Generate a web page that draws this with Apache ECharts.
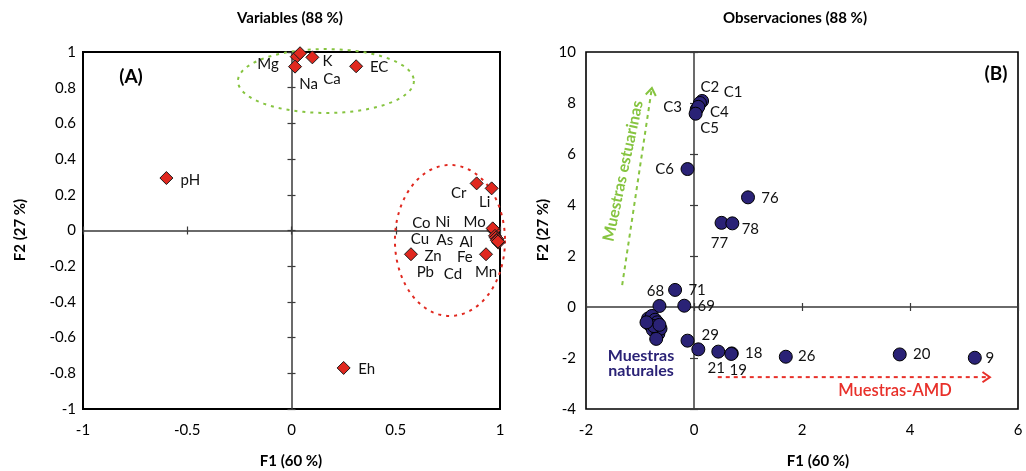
<!DOCTYPE html>
<html>
<head>
<meta charset="utf-8">
<script src="https://cdn.jsdelivr.net/npm/echarts@6/dist/echarts.min.js"></script>
<style>
  html, body { margin: 0; padding: 0; background: #fff; }
  #chart { width: 1026px; height: 471px; }
</style>
</head>
<body>
<div id="chart"></div>
<script>
// ---------- Panel A: variable loadings ----------
const varNames = ['pH', 'Eh', 'EC', 'K', 'Na', 'Ca', 'Mg', 'Cr', 'Li', 'Co', 'Ni', 'Mo', 'Cu', 'As', 'Al', 'Fe', 'Pb', 'Cd', 'Zn', 'Mn'];
const varF1 = [-0.60, 0.25, 0.31, 0.10, 0.025, 0.041, 0.017, 0.888, 0.96, 0.968, 0.970, 0.965, 0.976, 0.980, 0.987, 0.985, 0.992, 0.990, 0.573, 0.933];
const varF2 = [0.294, -0.77, 0.92, 0.97, 0.974, 0.993, 0.918, 0.264, 0.236, 0.008, 0.000, 0.012, -0.030, -0.040, -0.048, -0.055, -0.068, -0.062, -0.133, -0.133];

// ---------- Panel B: observation scores ----------
const obsNames = ['C1', 'C2', 'C3', 'C4', 'C5', 'C6', '76', '77', '78', '68', '71', '69',
  '29', '', '21', '18', '19', '26', '20', '9',
  '', '', '', '', '', '', '', '', '', '', '', '', '', '', ''];
const obsF1 = [0.15, 0.11, 0.05, 0.08, 0.03, -0.12, 1.00, 0.51, 0.71, -0.64, -0.35, -0.18,
  0.08, -0.12, 0.45, 0.70, 0.69, 1.70, 3.81, 5.20,
  -0.85, -0.80, -0.78, -0.75, -0.72, -0.70, -0.68, -0.82, -0.76, -0.66, -0.62, -0.70, -0.74, -0.88, -0.64];
const obsF2 = [8.08, 8.00, 7.75, 7.85, 7.58, 5.41, 4.30, 3.30, 3.28, 0.04, 0.67, 0.05,
  -1.66, -1.32, -1.75, -1.82, -1.84, -1.95, -1.86, -1.99,
  -0.45, -0.55, -0.35, -0.65, -0.50, -0.80, -0.60, -0.70, -0.90, -1.05, -0.85, -1.25, -0.75, -0.60, -0.70];

// Axis tick values
const ticksA_x = [-1, -0.5, 0, 0.5, 1];
const ticksA_y = [-1, -0.8, -0.6, -0.4, -0.2, 0, 0.2, 0.4, 0.6, 0.8, 1];
const ticksB_x = [-2, 0, 2, 4, 6];
const ticksB_y = [-4, -2, 0, 2, 4, 6, 8, 10];

// Grouping ellipses in panel A: [centre F1, centre F2, radius F1, radius F2]
const ellipseCations = [0.165, 0.8375, 0.422, 0.179];
const ellipseMetals = [0.76, -0.056, 0.264, 0.423];

// Trend arrows in panel B: [F1 start, F2 start, F1 end, F2 end]
const arrowEstuarine = [-1.33, 0.86, -0.78, 8.59];
const arrowAMD = [0.44, -2.75, 5.48, -2.75];

// Label placement (pixel offsets from each marker centre)
const varLabelOffset = {
  pH: [24, 2], Eh: [23, 1], EC: [23, 1], K: [15, 4], Na: [12, 28], Ca: [32, 26], Mg: [-27, -2],
  Cr: [-18, 10], Li: [-7, 14], Co: [-72, -6], Ni: [-51, -8], Mo: [-18, -6], Cu: [-75, 3],
  As: [-51, 3], Al: [-31, 3], Fe: [-32, 17], Pb: [-73, 30], Cd: [-45, 33], Zn: [22, 2], Mn: [0, 18]
};
const obsLabelOffset = {
  C1: [31, -9], C2: [10, -16], C3: [-24, -2], C4: [21, 5], C5: [14, 14], C6: [-23, 0],
  '76': [22, 1], '77': [-2, 20], '78': [18, 6], '68': [-4, -15], '71': [22, 0], '69': [22, 0],
  '29': [12, -14], '21': [-2, 17], '18': [22, 0], '19': [7, 16], '26': [21, -1], '20': [22, 0], '9': [15, 0]
};

const FONT = 'Lato, "Open Sans", sans-serif';
const RED = '#e0281f';
const NAVY = '#2a2276';
const GREEN = '#86c440';
const AMD_RED = '#e8302a';

const chart = echarts.init(document.getElementById('chart'), null, { renderer: 'canvas' });

function step(arr) { return arr[1] - arr[0]; }
function tickText(v) { return String(Math.round(v * 100) / 100); }

// Frame axis (labels only) + two zero-crossing axes (ticks on each side)
function axesFor(dim, gridIndex, ticks, labelMargin) {
  const base = {
    gridIndex, type: 'value', min: ticks[0], max: ticks[ticks.length - 1], interval: step(ticks),
    splitLine: { show: false }
  };
  const frame = Object.assign({}, base, {
    position: dim === 'x' ? 'bottom' : 'left',
    axisLine: { show: false, onZero: false },
    axisTick: { show: false },
    axisLabel: { show: true, color: '#000', fontSize: 15, fontFamily: FONT, margin: labelMargin, formatter: tickText }
  });
  const zeroOut = Object.assign({}, base, {
    position: dim === 'x' ? 'bottom' : 'left',
    axisLine: { show: true, onZero: true, lineStyle: { color: '#3a3a3a', width: 1.5 } },
    axisTick: { show: true, length: 4, inside: false, lineStyle: { color: '#3a3a3a', width: 1.2 } },
    axisLabel: { show: false }
  });
  const zeroIn = Object.assign({}, base, {
    position: dim === 'x' ? 'bottom' : 'left',
    axisLine: { show: false, onZero: true },
    axisTick: { show: true, length: 4, inside: true, lineStyle: { color: '#3a3a3a', width: 1.2 } },
    axisLabel: { show: false }
  });
  return [frame, zeroOut, zeroIn];
}

function ellipseSeries(ell, color, xi, yi) {
  return {
    type: 'custom', xAxisIndex: xi, yAxisIndex: yi, clip: false, silent: true, z: 1,
    data: [ell],
    renderItem(params, api) {
      const c = api.coord([api.value(0), api.value(1)]);
      const s = api.size([api.value(2), api.value(3)]);
      const pts = [];
      for (let i = 0; i <= 120; i++) {
        const t = (i / 120) * Math.PI * 2;
        pts.push([c[0] + s[0] * Math.cos(t), c[1] + s[1] * Math.sin(t)]);
      }
      return {
        type: 'polyline', shape: { points: pts },
        style: { fill: null, stroke: color, lineWidth: 2, lineDash: [3, 5] }
      };
    }
  };
}

function arrowSeries(arr, color, xi, yi) {
  return {
    type: 'custom', xAxisIndex: xi, yAxisIndex: yi, clip: false, silent: true, z: 1,
    data: [arr],
    renderItem(params, api) {
      const p0 = api.coord([api.value(0), api.value(1)]);
      const p1 = api.coord([api.value(2), api.value(3)]);
      const ang = Math.atan2(p1[1] - p0[1], p1[0] - p0[0]);
      const L = 9, spread = 0.6;
      const h1 = [p1[0] - L * Math.cos(ang - spread), p1[1] - L * Math.sin(ang - spread)];
      const h2 = [p1[0] - L * Math.cos(ang + spread), p1[1] - L * Math.sin(ang + spread)];
      return {
        type: 'group',
        children: [
          { type: 'line', shape: { x1: p0[0], y1: p0[1], x2: p1[0], y2: p1[1] },
            style: { stroke: color, lineWidth: 2, lineDash: [4, 4] } },
          { type: 'polyline', shape: { points: [h1, p1, h2] },
            style: { stroke: color, lineWidth: 2, fill: null } }
        ]
      };
    }
  };
}

const varData = varNames.map((n, i) => ({
  value: [varF1[i], varF2[i]], name: n,
  label: { offset: varLabelOffset[n] || [0, 0] }
}));
const obsData = obsNames.map((n, i) => ({
  value: [obsF1[i], obsF2[i]], name: n,
  label: { offset: obsLabelOffset[n] || [0, 0] }
}));

const xA = axesFor('x', 0, ticksA_x, 14);
const yA = axesFor('y', 0, ticksA_y, 7);
const xB = axesFor('x', 1, ticksB_x, 14);
const yB = axesFor('y', 1, ticksB_y, 10);

const option = {
  animation: false,
  backgroundColor: '#fff',
  textStyle: { fontFamily: FONT },
  grid: [
    { left: 83, top: 52, width: 417, height: 357, containLabel: false, outerBoundsMode: 'none',
      show: true, borderColor: '#000', borderWidth: 2, backgroundColor: 'transparent' },
    { left: 586, top: 52, width: 432, height: 357, containLabel: false, outerBoundsMode: 'none',
      show: true, borderColor: '#000', borderWidth: 1.6, backgroundColor: 'transparent' }
  ],
  xAxis: [...xA, ...xB],
  yAxis: [...yA, ...yB],
  series: [
    ellipseSeries(ellipseCations, GREEN, 0, 0),
    ellipseSeries(ellipseMetals, RED, 0, 0),
    {
      type: 'scatter', xAxisIndex: 0, yAxisIndex: 0, z: 3,
      symbol: 'diamond', symbolSize: 13,
      itemStyle: { color: RED, borderColor: '#1a1a1a', borderWidth: 1, opacity: 1 },
      label: { show: true, position: 'inside', formatter: '{b}', color: '#111', fontSize: 15, fontFamily: FONT },
      data: varData
    },
    arrowSeries(arrowEstuarine, GREEN, 3, 3),
    arrowSeries(arrowAMD, AMD_RED, 3, 3),
    {
      type: 'scatter', xAxisIndex: 3, yAxisIndex: 3, z: 3,
      symbol: 'circle', symbolSize: 13,
      itemStyle: { color: NAVY, borderColor: '#000', borderWidth: 1, opacity: 1 },
      label: { show: true, position: 'inside', formatter: '{b}', color: '#111', fontSize: 15, fontFamily: FONT },
      data: obsData
    }
  ],
  graphic: [
    { type: 'text', x: 290, y: 18, style: { text: 'Variables (88 %)', font: 'bold 15px ' + FONT, fill: '#000', textAlign: 'center', textVerticalAlign: 'middle' } },
    { type: 'text', x: 795, y: 18, style: { text: 'Observaciones (88 %)', font: 'bold 15px ' + FONT, fill: '#000', textAlign: 'center', textVerticalAlign: 'middle' } },
    { type: 'text', x: 291, y: 461, style: { text: 'F1 (60 %)', font: 'bold 15px ' + FONT, fill: '#000', textAlign: 'center', textVerticalAlign: 'middle' } },
    { type: 'text', x: 818, y: 461, style: { text: 'F1 (60 %)', font: 'bold 15px ' + FONT, fill: '#000', textAlign: 'center', textVerticalAlign: 'middle' } },
    { type: 'text', x: 20, y: 230, rotation: Math.PI / 2, style: { text: 'F2 (27 %)', font: 'bold 15px ' + FONT, fill: '#000', textAlign: 'center', textVerticalAlign: 'middle' } },
    { type: 'text', x: 543, y: 230, rotation: Math.PI / 2, style: { text: 'F2 (27 %)', font: 'bold 15px ' + FONT, fill: '#000', textAlign: 'center', textVerticalAlign: 'middle' } },
    { type: 'text', x: 131, y: 77, style: { text: '(A)', font: 'bold 19px ' + FONT, fill: '#000', textAlign: 'center', textVerticalAlign: 'middle' } },
    { type: 'text', x: 996, y: 74, style: { text: '(B)', font: 'bold 19px ' + FONT, fill: '#000', textAlign: 'center', textVerticalAlign: 'middle' } },
    { type: 'text', x: 623, y: 171, rotation: 78 * Math.PI / 180, style: { text: 'Muestras estuarinas', font: 'bold 16px ' + FONT, fill: GREEN, textAlign: 'center', textVerticalAlign: 'middle' } },
    { type: 'text', x: 641, y: 356, style: { text: 'Muestras', font: 'bold 16px ' + FONT, fill: NAVY, textAlign: 'center', textVerticalAlign: 'middle' } },
    { type: 'text', x: 641, y: 371, style: { text: 'naturales', font: 'bold 16px ' + FONT, fill: NAVY, textAlign: 'center', textVerticalAlign: 'middle' } },
    { type: 'text', x: 895, y: 391, style: { text: 'Muestras-AMD', font: '600 16.5px ' + FONT, fill: AMD_RED, textAlign: 'center', textVerticalAlign: 'middle' } }
  ]
};

chart.setOption(option);
</script>
</body>
</html>
